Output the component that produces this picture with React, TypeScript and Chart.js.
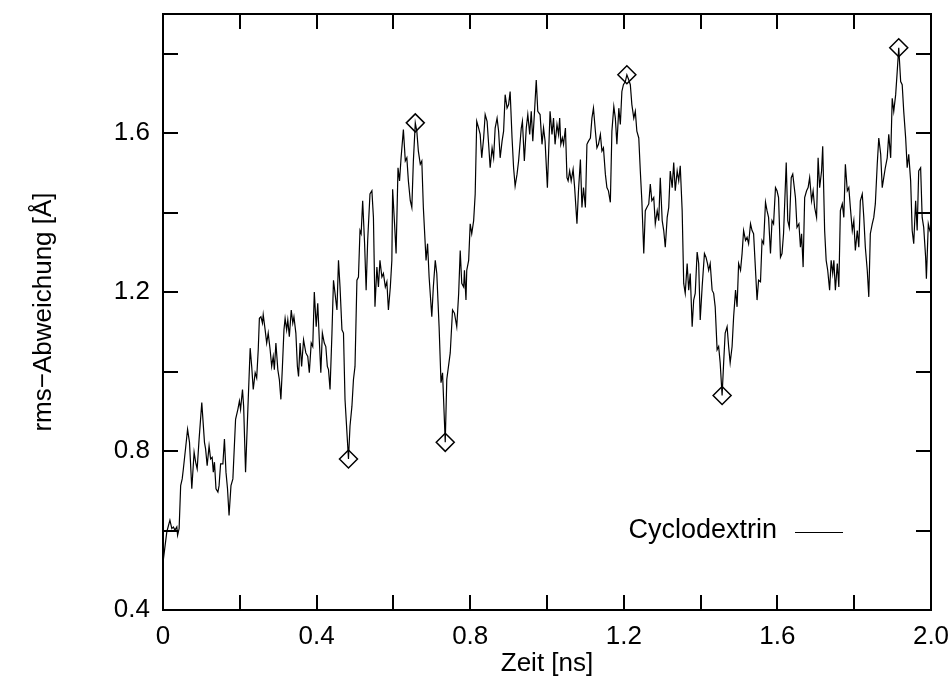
import React, { useEffect, useRef } from 'react';
import { Chart, registerables } from 'chart.js';

Chart.register(...registerables);

const FONT = '"Liberation Sans", Arial, Helvetica, sans-serif';
const FONT_SIZE = 26;

const seriesLabel = 'Cyclodextrin';
const xTitle = 'Zeit [ns]';
const yTitle = 'rms\u2212Abweichung [\u00C5]';

const times = [
  0.000,0.010,0.018,0.023,0.027,0.031,0.036,0.038,0.042,0.046,0.050,0.053,0.059,0.064,0.069,0.075,0.081,0.085,0.089,0.094,0.101,0.108,0.111,0.115,0.120,0.124,0.128,0.131,0.134,0.138,0.143,0.146,0.150,0.156,0.160,0.164,0.168,0.172,0.177,0.182,0.189,0.195,0.199,0.202,0.207,0.210,0.215,0.221,0.227,0.231,0.235,0.240,0.244,0.248,0.251,0.255,0.259,0.261,0.266,0.270,0.274,0.279,0.283,0.287,0.290,0.294,0.299,0.303,0.307,0.311,0.315,0.318,0.322,0.325,0.329,0.334,0.338,0.341,0.346,0.350,0.353,0.357,0.361,0.366,
  0.372,0.377,0.381,0.386,0.390,0.394,0.399,0.403,0.407,0.411,0.415,0.420,0.424,0.428,0.431,0.435,0.440,0.444,0.448,0.453,0.457,0.461,0.466,0.470,0.474,0.483,0.487,0.492,0.496,0.500,0.505,0.509,0.513,0.516,0.520,0.525,0.529,0.533,0.539,0.544,0.548,0.552,0.557,0.561,0.565,0.570,0.574,0.579,0.583,0.587,0.592,0.596,0.598,0.603,0.607,0.612,0.616,0.620,0.626,0.631,0.635,0.639,0.644,0.648,0.652,0.657,0.661,0.665,
  0.670,0.674,0.678,0.685,0.689,0.693,0.700,0.704,0.709,0.713,0.719,0.724,0.728,0.735,0.739,0.748,0.754,0.759,0.765,0.770,0.774,0.778,0.783,0.785,0.789,0.791,0.796,0.800,0.804,0.809,0.813,0.817,0.822,0.826,0.830,0.835,0.839,0.844,0.848,0.852,0.857,0.861,0.865,0.870,0.874,0.878,0.883,0.887,0.891,0.896,0.900,0.904,0.909,0.913,0.917,0.922,0.926,0.933,0.936,0.941,0.946,0.950,0.955,0.959,0.963,0.968,0.972,0.976,0.982,
  0.987,0.991,0.995,1.001,1.008,1.013,1.017,1.021,1.026,1.030,1.033,1.036,1.040,1.043,1.048,1.052,1.055,1.059,1.063,1.068,1.072,1.078,1.082,1.087,1.091,1.095,1.100,1.104,1.108,1.113,1.117,1.121,1.126,1.130,1.134,1.139,1.143,1.147,1.152,1.156,1.160,1.165,1.169,1.174,1.178,1.182,1.187,1.191,1.195,1.199,1.204,1.208,1.213,1.217,1.221,1.226,1.230,1.234,1.239,1.243,1.247,1.252,1.256,1.260,1.265,1.269,1.273,1.278,1.282,1.287,1.291,1.295,1.300,1.304,1.308,
  1.313,1.317,1.321,1.326,1.330,1.334,1.339,1.343,1.347,1.352,1.356,1.360,1.365,1.369,1.373,1.378,1.382,1.386,1.391,1.395,1.399,1.404,1.410,1.414,1.418,1.421,1.425,1.430,1.434,1.438,1.443,1.447,1.451,1.456,1.460,1.464,1.469,1.473,1.477,1.482,1.486,1.491,1.495,1.499,1.504,1.508,1.512,1.517,1.521,1.525,1.530,1.534,1.538,1.543,1.547,1.551,1.556,1.560,1.564,1.569,1.573,1.577,1.582,1.586,1.590,1.595,1.599,1.603,1.608,1.612,1.616,1.623,1.627,1.631,1.636,1.640,1.642,1.647,1.651,1.656,1.660,
  1.663,1.667,1.671,1.676,1.680,1.684,1.689,1.693,1.697,1.702,1.706,1.710,1.715,1.718,1.723,1.727,1.731,1.736,1.740,1.744,1.747,1.751,1.756,1.760,1.764,1.769,1.773,1.777,1.782,1.786,1.790,1.795,1.799,1.803,1.808,1.812,1.816,1.821,1.825,1.829,1.834,1.838,1.842,1.847,1.851,1.855,1.860,1.864,1.869,1.873,1.877,1.881,1.886,1.890,1.895,1.899,1.903,1.908,1.912,1.916,1.921,1.925,1.929,1.934,1.938,1.942,1.947,1.951,1.955,1.960,1.964,1.968,1.973,1.977,1.981,1.986,1.988,1.993,1.997,2.000,
];

const rmsValues = [
  0.52,0.597,0.626,0.605,0.609,0.601,0.609,0.588,0.605,0.713,0.73,0.755,0.809,0.855,0.822,0.705,0.797,0.772,0.755,0.83,0.922,0.822,0.805,0.763,0.813,0.78,0.784,0.747,0.772,0.705,0.697,0.713,0.768,0.768,0.83,0.747,0.705,0.638,0.713,0.73,0.88,0.905,0.926,0.905,0.955,0.913,0.747,0.905,1.059,1.013,0.955,0.997,0.984,1.055,1.134,1.138,1.122,1.143,1.105,1.072,1.097,1.055,1.013,1.038,1.005,1.072,1.005,0.98,0.93,1.013,1.105,1.134,1.105,1.13,1.088,1.155,1.122,1.138,1.097,1.013,0.988,1.072,1.013,1.08,
  1.047,1.038,0.997,1.072,1.063,1.2,1.113,1.172,1.08,0.997,1.097,1.072,1.063,1.013,1.005,0.955,1.097,1.23,1.197,1.155,1.28,1.213,1.105,1.097,0.93,0.78,0.863,0.913,0.98,1.013,1.23,1.238,1.355,1.347,1.43,1.322,1.205,1.33,1.447,1.455,1.388,1.163,1.263,1.213,1.28,1.238,1.247,1.213,1.226,1.155,1.213,1.28,1.459,1.372,1.297,1.513,1.48,1.538,1.609,1.53,1.538,1.48,1.43,1.413,1.53,1.626,1.605,1.555,
  1.522,1.53,1.413,1.28,1.322,1.238,1.138,1.213,1.28,1.247,1.113,0.972,0.997,0.822,0.98,1.047,1.155,1.147,1.113,1.197,1.305,1.222,1.213,1.255,1.18,1.255,1.28,1.372,1.347,1.38,1.447,1.63,1.613,1.597,1.538,1.588,1.647,1.63,1.572,1.513,1.563,1.538,1.613,1.638,1.605,1.538,1.58,1.605,1.697,1.663,1.672,1.705,1.588,1.513,1.467,1.497,1.53,1.613,1.63,1.53,1.613,1.647,1.597,1.655,1.58,1.663,1.734,1.655,1.647,
  1.572,1.613,1.58,1.463,1.655,1.597,1.638,1.572,1.622,1.597,1.638,1.572,1.588,1.572,1.613,1.488,1.48,1.505,1.48,1.509,1.463,1.372,1.455,1.534,1.413,1.463,1.413,1.572,1.58,1.588,1.638,1.663,1.605,1.563,1.572,1.597,1.555,1.563,1.497,1.463,1.455,1.426,1.605,1.667,1.638,1.572,1.663,1.622,1.705,1.722,1.73,1.747,1.734,1.722,1.672,1.638,1.655,1.605,1.588,1.505,1.43,1.297,1.405,1.413,1.422,1.472,1.43,1.438,1.372,1.405,1.38,1.488,1.38,1.355,1.313,
  1.388,1.413,1.505,1.463,1.526,1.455,1.505,1.48,1.518,1.405,1.222,1.197,1.272,1.205,1.247,1.113,1.18,1.197,1.301,1.272,1.13,1.213,1.297,1.288,1.272,1.255,1.272,1.205,1.197,1.163,1.055,1.063,1.022,0.94,1.022,1.097,1.113,1.063,1.022,1.063,1.138,1.205,1.163,1.272,1.255,1.297,1.355,1.33,1.338,1.322,1.372,1.355,1.347,1.255,1.18,1.23,1.226,1.33,1.322,1.426,1.405,1.388,1.297,1.38,1.372,1.463,1.455,1.438,1.288,1.297,1.347,1.526,1.38,1.363,1.488,1.497,1.48,1.438,1.363,1.372,1.313,
  1.347,1.263,1.438,1.455,1.463,1.488,1.43,1.455,1.413,1.388,1.538,1.463,1.505,1.567,1.355,1.28,1.255,1.205,1.28,1.247,1.28,1.205,1.272,1.213,1.405,1.422,1.388,1.522,1.455,1.463,1.413,1.355,1.38,1.305,1.355,1.313,1.43,1.447,1.388,1.313,1.255,1.188,1.347,1.372,1.388,1.422,1.522,1.588,1.547,1.463,1.488,1.513,1.538,1.597,1.538,1.688,1.655,1.697,1.755,1.815,1.73,1.722,1.655,1.588,1.513,1.547,1.48,1.355,1.322,1.43,1.355,1.505,1.513,1.388,1.363,1.288,1.234,1.372,1.355,1.347,
];

const markerTimes = [0.483, 0.657, 0.735, 1.208, 1.456, 1.916];
const markerValues = [0.78, 1.626, 0.822, 1.747, 0.94, 1.815];

const xTickValues = [0, 0.2, 0.4, 0.6, 0.8, 1.0, 1.2, 1.4, 1.6, 1.8, 2.0];
const xTickLabels = ['0', '', '0.4', '', '0.8', '', '1.2', '', '1.6', '', '2.0'];
const yTickValues = [0.4, 0.6, 0.8, 1.0, 1.2, 1.4, 1.6, 1.8];
const yTickLabels = ['0.4', '', '0.8', '', '1.2', '', '1.6', ''];

const labelFor = (vals: number[], labels: string[], v: number) => {
  const i = vals.findIndex((t) => Math.abs(t - v) < 1e-6);
  return i >= 0 ? labels[i] : '';
};

const framePlugin = {
  id: 'frame',
  afterDatasetsDraw(chart: any) {
    const { ctx, chartArea, scales } = chart;
    const { left, right, top, bottom } = chartArea;
    const x = scales.x;
    const y = scales.y;
    ctx.save();
    ctx.strokeStyle = '#000';
    ctx.lineWidth = 2;
    ctx.strokeRect(left, top, right - left, bottom - top);
    ctx.beginPath();
    const tl = 15;
    for (const v of xTickValues) {
      const px = Math.round(x.getPixelForValue(v));
      ctx.moveTo(px, bottom);
      ctx.lineTo(px, bottom - tl);
      ctx.moveTo(px, top);
      ctx.lineTo(px, top + tl);
    }
    for (const v of yTickValues) {
      const py = Math.round(y.getPixelForValue(v));
      ctx.moveTo(left, py);
      ctx.lineTo(left + tl, py);
      ctx.moveTo(right, py);
      ctx.lineTo(right - tl, py);
    }
    ctx.stroke();

    ctx.fillStyle = '#000';
    ctx.font = `${FONT_SIZE}px ${FONT}`;
    ctx.textAlign = 'center';
    ctx.textBaseline = 'middle';
    ctx.fillText(xTitle, (left + right) / 2, 664);

    ctx.save();
    ctx.translate(44, (top + bottom) / 2);
    ctx.rotate(-Math.PI / 2);
    ctx.fillText(yTitle, 0, 0);
    ctx.restore();

    // legend
    ctx.font = `27px ${FONT}`;
    ctx.textAlign = 'right';
    ctx.fillText(seriesLabel, right - 154, 531);
    ctx.lineWidth = 1;
    ctx.beginPath();
    ctx.moveTo(right - 136, 532.5);
    ctx.lineTo(right - 88, 532.5);
    ctx.stroke();
    ctx.restore();
  },
};

export default function App() {
  const canvasRef = useRef<HTMLCanvasElement | null>(null);

  useEffect(() => {
    const canvas = canvasRef.current;
    if (!canvas) return;
    const lineData = times.map((t, i) => ({ x: t, y: rmsValues[i] }));
    const markerData = markerTimes.map((t, i) => ({ x: t, y: markerValues[i] }));

    const chart = new Chart(canvas, {
      type: 'line',
      data: {
        datasets: [
          {
            label: seriesLabel,
            data: lineData,
            borderColor: '#000',
            borderWidth: 1.2,
            pointRadius: 0,
            fill: false,
            tension: 0,
          },
          {
            label: 'extrema',
            data: markerData,
            showLine: false,
            pointStyle: 'rectRot',
            pointRadius: 9,
            pointBorderWidth: 1.5,
            pointBorderColor: '#000',
            pointBackgroundColor: 'rgba(0,0,0,0)',
            borderColor: '#000',
            clip: false,
          },
        ],
      },
      options: {
        responsive: false,
        animation: false,
        devicePixelRatio: 1,
        layout: { autoPadding: false, padding: { top: 14, right: 21, bottom: 0, left: 0 } },
        plugins: {
          legend: { display: false },
          tooltip: { enabled: false },
        },
        scales: {
          x: {
            type: 'linear',
            min: 0,
            max: 2,
            afterBuildTicks: (s: any) => {
              s.ticks = xTickValues.map((v) => ({ value: v }));
            },
            afterFit: (s: any) => {
              s.height = 68;
            },
            grid: { display: true, drawOnChartArea: false, drawTicks: true, tickLength: 14, color: 'rgba(0,0,0,0)' },
            border: { display: false },
            ticks: {
              autoSkip: false,
              maxRotation: 0,
              padding: 0,
              color: '#000',
              font: { family: FONT, size: FONT_SIZE, lineHeight: 1 },
              callback: (v: any) => labelFor(xTickValues, xTickLabels, Number(v)),
            },
          },
          y: {
            type: 'linear',
            min: 0.4,
            max: 1.9,
            afterBuildTicks: (s: any) => {
              s.ticks = yTickValues.map((v) => ({ value: v }));
            },
            afterFit: (s: any) => {
              s.width = 163;
            },
            grid: { display: true, drawOnChartArea: false, drawTicks: true, tickLength: 13, color: 'rgba(0,0,0,0)' },
            border: { display: false },
            ticks: {
              autoSkip: false,
              padding: 0,
              color: '#000',
              font: { family: FONT, size: FONT_SIZE, lineHeight: 1 },
              callback: (v: any) => labelFor(yTickValues, yTickLabels, Number(v)),
            },
          },
        },
      },
      plugins: [framePlugin],
    } as any);

    return () => chart.destroy();
  }, []);

  return (
    <div style={{ position: 'absolute', left: 0, top: 0, width: 952, height: 678, background: '#fff' }}>
      <canvas ref={canvasRef} width={952} height={678} style={{ width: 952, height: 678, display: 'block' }} />
    </div>
  );
}
